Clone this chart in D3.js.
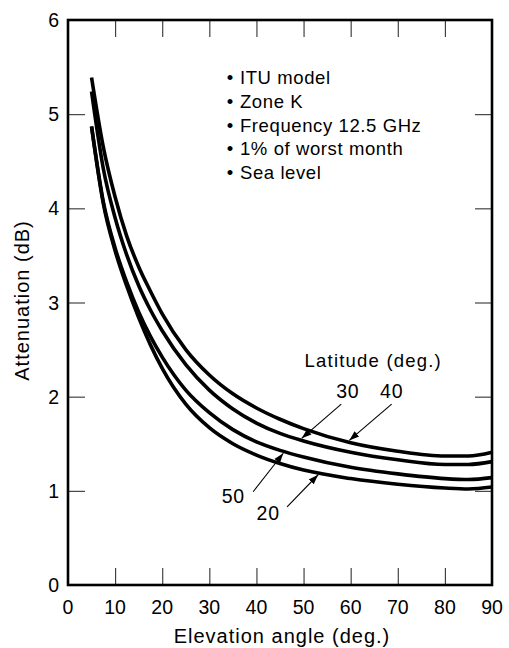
<!DOCTYPE html>
<html>
<head>
<meta charset="utf-8">
<script src="https://cdn.jsdelivr.net/npm/d3@7"></script>
<style>
  html, body { margin: 0; padding: 0; background: #fff; }
  svg { display: block; font-family: "Liberation Sans", Arial, Helvetica, sans-serif; }
</style>
</head>
<body>
<svg id="chart" width="509" height="648"></svg>
<script>
// ---------- data ----------
const elevations = [5, 7.5, 10, 12.5, 15, 17.5, 20, 25, 30, 35, 40, 45, 50, 60, 70, 80, 85, 90];
const lat40 = [5.39, 4.65, 4.12, 3.70, 3.38, 3.12, 2.88, 2.50, 2.23, 2.03, 1.88, 1.76, 1.66, 1.51, 1.42, 1.37, 1.37, 1.41];
const lat30 = [5.24, 4.42, 3.90, 3.50, 3.18, 2.92, 2.70, 2.34, 2.07, 1.87, 1.72, 1.61, 1.53, 1.41, 1.33, 1.28, 1.28, 1.31];
const lat50 = [4.87, 4.07, 3.58, 3.21, 2.90, 2.64, 2.42, 2.07, 1.83, 1.65, 1.52, 1.43, 1.36, 1.25, 1.18, 1.13, 1.12, 1.14];
const lat20 = [4.87, 4.05, 3.55, 3.17, 2.84, 2.55, 2.30, 1.92, 1.67, 1.50, 1.38, 1.29, 1.22, 1.13, 1.07, 1.03, 1.02, 1.04];
const seriesNames = ["40", "30", "50", "20"];
const xTicks = [0, 10, 20, 30, 40, 50, 60, 70, 80, 90];
const yTicks = [0, 1, 2, 3, 4, 5, 6];
const notes = ["ITU model", "Zone K", "Frequency 12.5 GHz", "1% of worst month", "Sea level"];
const xTitle = "Elevation angle (deg.)";
const yTitle = "Attenuation (dB)";
const legendTitle = "Latitude (deg.)";
// latitude labels (data units) and arrows pointing to curves
const latLabels = [
  { text: "30", x: 59.4, y: 1.99 },
  { text: "40", x: 68.7, y: 1.99 },
  { text: "50", x: 35.1, y: 0.87 },
  { text: "20", x: 42.5, y: 0.69 }
];
const latArrows = [
  { lat: "30", x1: 58.0, y1: 1.92, x2: 49.6, side: -1 },
  { lat: "40", x1: 68.7, y1: 1.92, x2: 59.7, side: -1 },
  { lat: "50", x1: 39.3, y1: 0.99, x2: 45.7, side: 1 },
  { lat: "20", x1: 46.5, y1: 0.83, x2: 53.1, side: 1 }
];

// ---------- layout ----------
const W = 509, H = 648;
const margin = { top: 20, right: 17, bottom: 63, left: 68 };
const svg = d3.select("#chart");

const x = d3.scaleLinear().domain([0, 90]).range([margin.left, W - margin.right]);
const y = d3.scaleLinear().domain([0, 6]).range([H - margin.bottom, margin.top]);

const tickLen = 17;

// inner ticks on all four sides
const gB = svg.append("g").attr("transform", `translate(0,${y(0)})`)
  .call(d3.axisBottom(x).tickValues(xTicks.slice(1, -1)).tickSize(-tickLen).tickFormat(""));
const gT = svg.append("g").attr("transform", `translate(0,${y(6)})`)
  .call(d3.axisTop(x).tickValues(xTicks.slice(1, -1)).tickSize(-tickLen).tickFormat(""));
const gL = svg.append("g").attr("transform", `translate(${x(0)},0)`)
  .call(d3.axisLeft(y).tickValues(yTicks.slice(1, -1)).tickSize(-tickLen).tickFormat(""));
const gR = svg.append("g").attr("transform", `translate(${x(90)},0)`)
  .call(d3.axisRight(y).tickValues(yTicks.slice(1, -1)).tickSize(-tickLen).tickFormat(""));
[gB, gT, gL, gR].forEach(g => {
  g.select(".domain").remove();
  g.selectAll(".tick line").attr("stroke", "#333").attr("stroke-width", 1.1);
});

// tick labels
svg.append("g").selectAll("text").data(xTicks).join("text")
  .attr("x", d => x(d)).attr("y", y(0) + 29)
  .attr("text-anchor", "middle")
  .attr("font-size", 19.5).attr("fill", "#000")
  .text(d => d);
svg.append("g").selectAll("text").data(yTicks).join("text")
  .attr("x", x(0) - 9).attr("y", d => y(d))
  .attr("dy", "0.36em")
  .attr("text-anchor", "end")
  .attr("font-size", 19.5).attr("fill", "#000")
  .text(d => d);

// axis titles
svg.append("text")
  .attr("x", (x(0) + x(90)) / 2 + 2).attr("y", H - 5)
  .attr("text-anchor", "middle").attr("font-size", 20).attr("letter-spacing", 1)
  .text(xTitle);
svg.append("text")
  .attr("transform", `translate(29,${(y(0) + y(6)) / 2 - 2}) rotate(-90)`)
  .attr("text-anchor", "middle").attr("font-size", 20).attr("letter-spacing", 1)
  .text(yTitle);

// curves
const seriesVals = [lat40, lat30, lat50, lat20];
const line = d3.line().x(d => x(d[0])).y(d => y(d[1])).curve(d3.curveMonotoneX);
svg.append("g").selectAll("path").data(seriesVals).join("path")
  .attr("d", vals => line(elevations.map((e, i) => [e, vals[i]])))
  .attr("fill", "none").attr("stroke", "#000").attr("stroke-width", 3.6)
  .attr("stroke-linecap", "butt")
  .attr("data-lat", (d, i) => seriesNames[i]);

// frame
svg.append("rect")
  .attr("x", x(0)).attr("y", y(6))
  .attr("width", x(90) - x(0)).attr("height", y(0) - y(6))
  .attr("fill", "none").attr("stroke", "#000").attr("stroke-width", 2.6);

// notes
const notesG = svg.append("g");
notes.forEach((t, i) => {
  const by = y(5.32) + i * 23.8;
  notesG.append("text").attr("x", x(34.4)).attr("y", by)
    .attr("text-anchor", "middle").attr("font-size", 18.5).text("•");
  notesG.append("text").attr("x", x(36.5)).attr("y", by)
    .attr("font-size", 18.5).attr("letter-spacing", 0.6).text(t);
});

// legend title & latitude labels
svg.append("text").attr("x", x(64.8)).attr("y", y(2.315))
  .attr("text-anchor", "middle").attr("font-size", 18.5).attr("letter-spacing", 1.2)
  .text(legendTitle);
svg.append("g").selectAll("text").data(latLabels).join("text")
  .attr("x", d => x(d.x)).attr("y", d => y(d.y))
  .attr("text-anchor", "middle").attr("font-size", 19.5).attr("letter-spacing", 0.8)
  .text(d => d.text);

// arrows: tip lands on the edge of the referenced curve
function valueAt(vals, e) {
  const i = Math.max(1, d3.bisectLeft(elevations, e));
  const e0 = elevations[i - 1], e1 = elevations[i];
  const t = (e - e0) / (e1 - e0);
  return vals[i - 1] + t * (vals[i] - vals[i - 1]);
}
svg.append("defs").append("marker")
  .attr("id", "arrow").attr("viewBox", "0 0 10 10")
  .attr("refX", 10).attr("refY", 5)
  .attr("markerWidth", 10).attr("markerHeight", 10)
  .attr("markerUnits", "userSpaceOnUse")
  .attr("orient", "auto")
  .append("path").attr("d", "M0,1.5 L10,5 L0,8.5 Z").attr("fill", "#000");
svg.append("g").selectAll("line").data(latArrows).join("line")
  .attr("x1", d => x(d.x1)).attr("y1", d => y(d.y1))
  .attr("x2", d => x(d.x2))
  .attr("y2", d => y(valueAt(seriesVals[seriesNames.indexOf(d.lat)], d.x2)) + d.side * 2)
  .attr("stroke", "#000").attr("stroke-width", 1.1)
  .attr("marker-end", "url(#arrow)");
</script>
</body>
</html>
